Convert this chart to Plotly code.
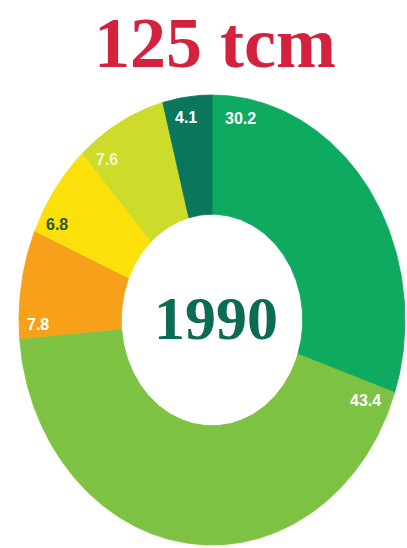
import numpy as np
import plotly.graph_objects as go

# ---- data ----
values = [30.2, 43.4, 7.8, 6.8, 7.6, 4.1]
value_labels = ["30.2", "43.4", "7.8", "6.8", "7.6", "4.1"]
colors = ["#0DAA5F", "#7DC242", "#F7A11A", "#FBE00C", "#CDDB2A", "#0A775C"]
label_colors = ["#FFFFFF", "#FFFFFF", "#FFFFFF", "#2E5A1C", "#F2F5D2", "#FFFFFF"]
title_text = "125 tcm"
center_text = "1990"

# ---- layout geometry (pixel-like axes) ----
W, H = 407, 548
cx, cy = 212, 320
rx, ry = 193, 225
hole = 0.47
label_angles_deg = [9.5, 114.2, 268.6, 297.8, 322.6, 351.5]
label_radii = [0.91, 0.87, 0.90, 0.91, 0.90, 0.91]

fig = go.Figure()
total = sum(values)
cum = 0.0
for v, c in zip(values, colors):
    a0 = cum / total * 2 * np.pi
    a1 = (cum + v) / total * 2 * np.pi
    cum += v
    n = max(int(v * 4), 12)
    t = np.linspace(a0, a1, n)
    xo = cx + rx * np.sin(t)
    yo = cy - ry * np.cos(t)
    xi = cx + rx * hole * np.sin(t[::-1])
    yi = cy - ry * hole * np.cos(t[::-1])
    xs = np.concatenate([xo, xi, xo[:1]])
    ys = np.concatenate([yo, yi, yo[:1]])
    fig.add_trace(go.Scatter(
        x=xs, y=ys, mode="lines", fill="toself", fillcolor=c,
        line=dict(color=c, width=0.8), hoverinfo="skip", showlegend=False))

for txt, ang, r, lc in zip(value_labels, label_angles_deg, label_radii, label_colors):
    a = np.deg2rad(ang)
    fig.add_annotation(
        x=cx + rx * r * np.sin(a), y=cy - ry * r * np.cos(a),
        text=txt, showarrow=False, xanchor="center", yanchor="middle",
        font=dict(family="Liberation Sans, Arial, sans-serif", size=16,
                  color=lc, weight="bold"))

fig.add_annotation(
    x=cx + 4, y=318, text=center_text, showarrow=False,
    xanchor="center", yanchor="middle",
    font=dict(family="Liberation Serif, Times New Roman, serif", size=62,
              color="#0B6B55", weight="bold"))

fig.add_annotation(
    x=215, y=43, text=title_text, showarrow=False,
    xanchor="center", yanchor="middle",
    font=dict(family="Liberation Serif, Times New Roman, serif", size=72,
              color="#D4213D", weight="bold"))

fig.update_layout(
    width=W, height=H,
    margin=dict(l=0, r=0, t=0, b=0),
    paper_bgcolor="white", plot_bgcolor="white",
    xaxis=dict(range=[0, W], visible=False, fixedrange=True),
    yaxis=dict(range=[H, 0], visible=False, fixedrange=True),
    showlegend=False,
)

fig.write_html(
    "out.html",
    config={"displayModeBar": False},
    post_script="document.body.style.margin='0';document.body.style.overflow='hidden';",
)
